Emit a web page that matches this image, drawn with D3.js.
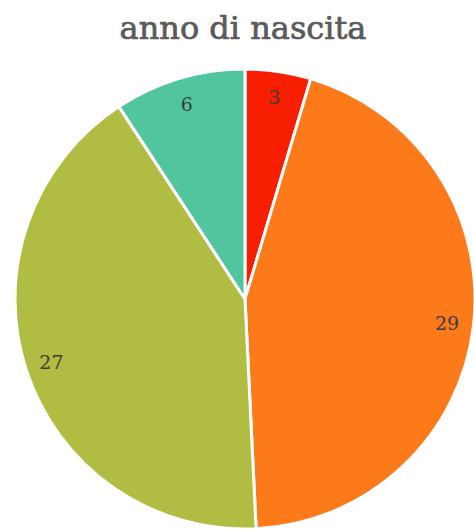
<!DOCTYPE html>
<html>
<head>
<meta charset="utf-8">
<script src="https://cdn.jsdelivr.net/npm/d3@7"></script>
<style>
  html, body { margin: 0; padding: 0; background: #fff; }
  svg { display: block; }
</style>
</head>
<body>
<svg id="chart" width="474" height="529"></svg>
<script>
// Birth-year groups and their counts
const categories = ["A", "B", "C", "D"];
const values = [3, 29, 27, 6];
const colors = ["#f71e02", "#fc7a1a", "#b1bd42", "#50c59e"];
const title = "anno di nascita";

const svg = d3.select("#chart");
const cx = 245, cy = 299, radius = 230;

svg.append("text")
  .attr("x", 243)
  .attr("y", 39)
  .attr("text-anchor", "middle")
  .attr("font-family", "'DejaVu Serif', serif")
  .attr("font-size", 32)
  .attr("fill", "#5a5a5a")
  .attr("stroke", "#5a5a5a")
  .attr("stroke-width", 0.7)
  .text(title);

const data = categories.map((c, i) => ({ cat: c, value: values[i], color: colors[i] }));

const pie = d3.pie().sort(null).value(d => d.value);
const arc = d3.arc().innerRadius(0).outerRadius(radius);
const labelArc = d3.arc().innerRadius(radius * 0.885).outerRadius(radius * 0.885);

const g = svg.append("g").attr("transform", `translate(${cx},${cy})`);
const arcs = pie(data);

g.selectAll("path")
  .data(arcs)
  .join("path")
  .attr("d", arc)
  .attr("fill", d => d.data.color)
  .attr("stroke", "#fff")
  .attr("stroke-width", 3)
  .attr("stroke-linejoin", "round");

g.selectAll("text")
  .data(arcs)
  .join("text")
  .attr("transform", d => `translate(${labelArc.centroid(d)})`)
  .attr("text-anchor", "middle")
  .attr("dy", "0.35em")
  .attr("font-family", "'DejaVu Serif', serif")
  .attr("font-size", 19)
  .attr("fill", "#3c3c3c")
  .text(d => d.data.value);
</script>
</body>
</html>
